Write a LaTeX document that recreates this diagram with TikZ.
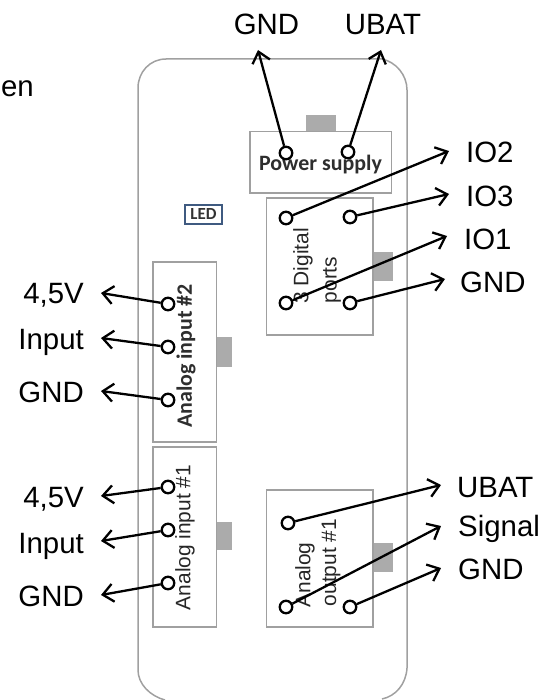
\documentclass[tikz,border=0pt]{standalone}
\usepackage{fontspec}
\setmainfont{Liberation Sans}
\newfontfamily\boardfont{Carlito}
\usetikzlibrary{arrows.meta}
\definecolor{boardgray}{HTML}{A0A0A0}
\definecolor{tabgray}{HTML}{ABABAB}
\definecolor{ledblue}{HTML}{3F5A80}
\tikzset{
  x=1bp,y=-1bp,
  frame/.style={draw=boardgray,line width=1.5bp},
  blockbox/.style={draw=boardgray,line width=1.9bp,fill=white},
  tabbox/.style={fill=tabgray},
  pin/.style={circle,draw=black,line width=2.3bp,minimum size=12.5bp,inner sep=0pt},
  lead/.style={draw=black,line width=2.3bp,-{Straight Barb[length=10.5bp,width=18bp,line width=2.3bp]}},
  lab/.style={font=\fontsize{29.5}{29.5}\selectfont,text=black,inner sep=0pt},
  blocklab/.style={font=\boardfont\bfseries\fontsize{22}{24}\selectfont,text=black!82,inner sep=0pt},
  blocklabv/.style={font=\fontsize{21}{23}\selectfont,text=black!85,inner sep=0pt,rotate=90},
}
\begin{document}
\begin{tikzpicture}
\useasboundingbox (0,0) rectangle (553,700);
% board outline
\draw[frame] (165,700) .. controls (150,696) and (138,684) .. (138,670) -- (138,88)
  .. controls (138,72) and (150,59) .. (166,59) -- (382,59)
  .. controls (396,62) and (407,75) .. (407,90) -- (407,668)
  .. controls (406,684) and (396,696) .. (382,699);
% tabs
\fill[tabbox] (306,115) rectangle (336,131);
\fill[tabbox] (373,252) rectangle (393,281);
\fill[tabbox] (216,337) rectangle (232,367);
\fill[tabbox] (216,522) rectangle (232,550);
\fill[tabbox] (373,543) rectangle (393,572);
% blocks
\node[blockbox,minimum width=141.5bp,minimum height=61.5bp,inner sep=0pt] (power) at (320.75,162.25) {};
\node[blockbox,minimum width=106.5bp,minimum height=137bp,inner sep=0pt] (digital) at (319.75,266.5) {};
\node[blockbox,minimum width=63.5bp,minimum height=180bp,inner sep=0pt] (ain2) at (184.75,352) {};
\node[blockbox,minimum width=63.5bp,minimum height=180bp,inner sep=0pt] (ain1) at (184.75,537) {};
\node[blockbox,minimum width=106.5bp,minimum height=137bp,inner sep=0pt] (aout) at (319.75,558.5) {};
\node[draw=ledblue,line width=1.1bp,minimum width=37bp,minimum height=19bp,inner sep=0pt,font=\boardfont\bfseries\fontsize{17}{17}\selectfont,text=black!80] (led) at (203.5,214.5) {LED};
% block labels
\node[blocklab] (tpower) at (320.5,165) {Power supply};
\node[blocklabv] (tdig1) at (303,266) {3 Digital};
\node[blocklabv] (tdig2) at (332,280) {ports};
\node[blocklab,rotate=90] (tain2) at (186,356) {Analog input \#2};
\node[blocklabv] (tain1) at (185,537.5) {Analog input \#1};
\node[blocklabv] (tout1) at (305,575) {Analog};
\node[blocklabv] (tout2) at (331,562.5) {output \#1};
% cut-off text
\node[lab,anchor=base east] (cut) at (34,97) {en};
% pins
\node[pin] (p1) at (286,153) {};
\node[pin] (p2) at (348,152) {};
\node[pin] (d1) at (286,218) {};
\node[pin] (d2) at (350,217) {};
\node[pin] (d3) at (286,303) {};
\node[pin] (d4) at (350,303) {};
\node[pin] (a1) at (168,304) {};
\node[pin] (a2) at (168,347) {};
\node[pin] (a3) at (168,400) {};
\node[pin] (b1) at (168,487) {};
\node[pin] (b2) at (168,530) {};
\node[pin] (b3) at (168,583) {};
\node[pin] (o1) at (288,523) {};
\node[pin] (o2) at (286,607) {};
\node[pin] (o3) at (350,607) {};
% labels
\node[lab,anchor=base] (lgnd) at (266.5,35) {GND};
\node[lab,anchor=base] (lubat) at (383,35) {UBAT};
\node[lab,anchor=base west] (lio2) at (466,162) {IO2};
\node[lab,anchor=base west] (lio3) at (466,206) {IO3};
\node[lab,anchor=base west] (lio1) at (464,249) {IO1};
\node[lab,anchor=base west] (lgnd2) at (460,292) {GND};
\node[lab,anchor=base east] (l45a) at (84,303) {4,5V};
\node[lab,anchor=base east] (lina) at (84,349) {Input};
\node[lab,anchor=base east] (lgnda) at (84,402) {GND};
\node[lab,anchor=base east] (l45b) at (84,507) {4,5V};
\node[lab,anchor=base east] (linb) at (84,553) {Input};
\node[lab,anchor=base east] (lgndb) at (84,606) {GND};
\node[lab,anchor=base west] (lubat2) at (457,497) {UBAT};
\node[lab,anchor=base west] (lsig) at (458,536) {Signal};
\node[lab,anchor=base west] (lgnd3) at (458,579) {GND};
% arrow tips
\coordinate (t1) at (258,50);
\coordinate (t2) at (381,50);
\coordinate (t3) at (449,151);
\coordinate (t4) at (449,194);
\coordinate (t5) at (447,236);
\coordinate (t6) at (445,279);
\coordinate (t7) at (101,293);
\coordinate (t8) at (101,338);
\coordinate (t9) at (101,391);
\coordinate (t10) at (101,496);
\coordinate (t11) at (101,541);
\coordinate (t12) at (101,595);
\coordinate (t13) at (441,485);
\coordinate (t14) at (441,526);
\coordinate (t15) at (441,568);
% connectors
\draw[lead] (p1) -- (t1);
\draw[lead] (p2) -- (t2);
\draw[lead] (d1) -- (t3);
\draw[lead] (d2) -- (t4);
\draw[lead] (d3) -- (t5);
\draw[lead] (d4) -- (t6);
\draw[lead] (a1) -- (t7);
\draw[lead] (a2) -- (t8);
\draw[lead] (a3) -- (t9);
\draw[lead] (b1) -- (t10);
\draw[lead] (b2) -- (t11);
\draw[lead] (b3) -- (t12);
\draw[lead] (o1) -- (t13);
\draw[lead] (o2) -- (t14);
\draw[lead] (o3) -- (t15);
\end{tikzpicture}
\end{document}
